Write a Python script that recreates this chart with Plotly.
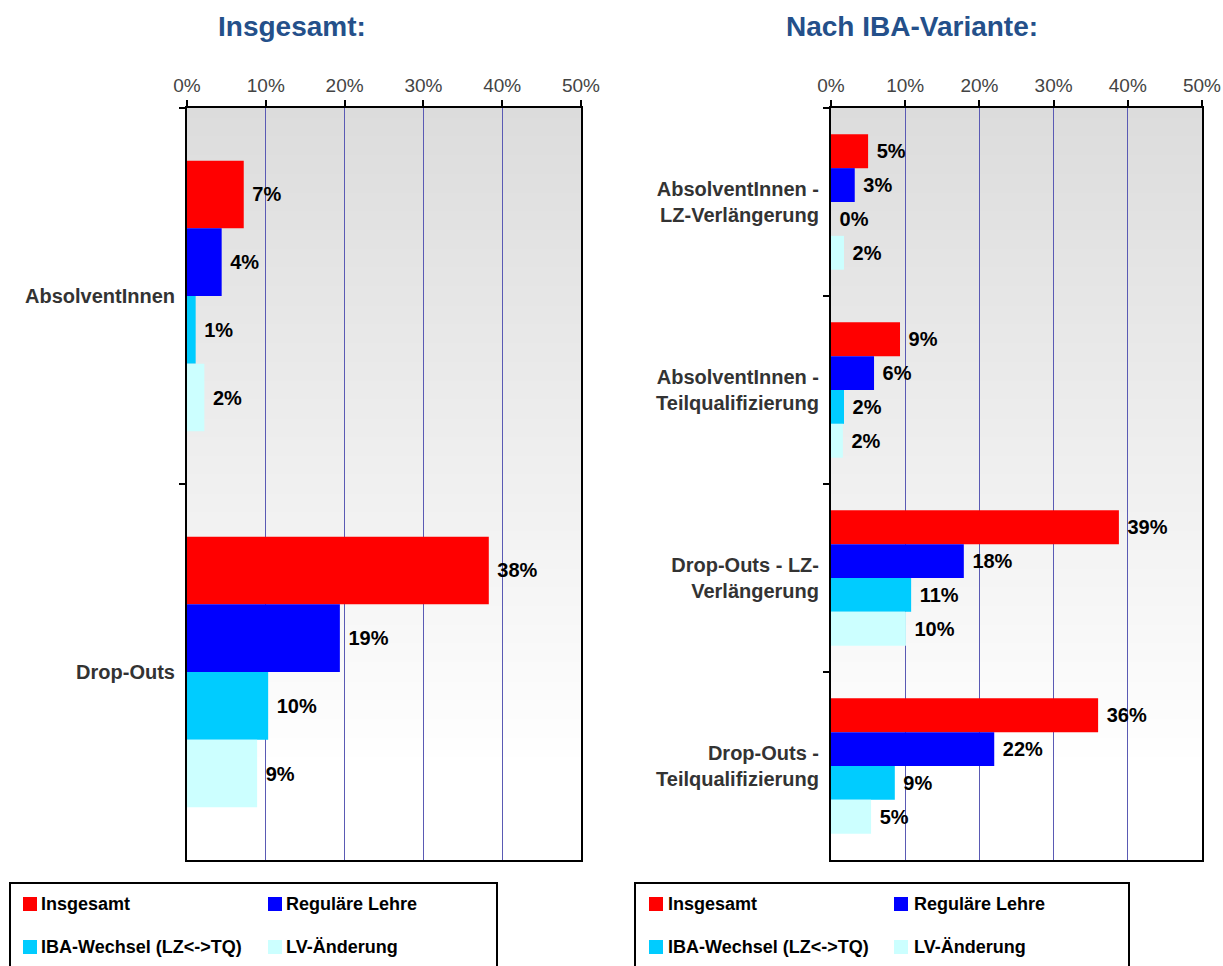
import plotly.graph_objects as go

# ---------------- data ----------------
series_names = ["Insgesamt", "Reguläre Lehre", "IBA-Wechsel (LZ<->TQ)", "LV-Änderung"]
series_colors = ["#ff0000", "#0000ff", "#00ccff", "#ccffff"]

cats_left = ["AbsolventInnen", "Drop-Outs"]
insgesamt_left = [7.2, 38.3]
regulaer_left = [4.4, 19.4]
iba_left = [1.1, 10.3]
lv_left = [2.2, 8.9]

cats_right = ["AbsolventInnen -<br>LZ-Verlängerung",
              "AbsolventInnen -<br>Teilqualifizierung",
              "Drop-Outs - LZ-<br>Verlängerung",
              "Drop-Outs -<br>Teilqualifizierung"]
insgesamt_right = [5.0, 9.3, 38.8, 36.0]
regulaer_right = [3.2, 5.8, 17.9, 22.0]
iba_right = [0.0, 1.75, 10.8, 8.6]
lv_right = [1.75, 1.6, 10.1, 5.4]

x_ticks = [0, 10, 20, 30, 40, 50]
titles = ["Insgesamt:", "Nach IBA-Variante:"]

# ---------------- figure ----------------
W, H = 1223, 966
FONT = "Liberation Sans, Arial, sans-serif"

fig = go.Figure()

left_vals = [insgesamt_left, regulaer_left, iba_left, lv_left]
right_vals = [insgesamt_right, regulaer_right, iba_right, lv_right]

for name, col, vals in zip(series_names, series_colors, left_vals):
    fig.add_trace(go.Bar(
        y=cats_left, x=vals, orientation="h", name=name,
        marker=dict(color=col, line=dict(width=0)),
        texttemplate="\u00a0%{x:.0f}%", textposition="outside",
        textfont=dict(family=FONT, size=20, color="black", weight="bold"),
        constraintext="none", cliponaxis=False,
        xaxis="x", yaxis="y", showlegend=False, hoverinfo="skip"))

for name, col, vals in zip(series_names, series_colors, right_vals):
    fig.add_trace(go.Bar(
        y=cats_right, x=vals, orientation="h", name=name,
        marker=dict(color=col, line=dict(width=0)),
        texttemplate="\u00a0%{x:.0f}%", textposition="outside",
        textfont=dict(family=FONT, size=20, color="black", weight="bold"),
        constraintext="none", cliponaxis=False,
        xaxis="x2", yaxis="y2", showlegend=False, hoverinfo="skip"))

def px_x(v):
    return v / W

def px_y(v):
    return 1 - v / H

y_dom = [px_y(860), px_y(108)]

xaxis_common = dict(
    range=[0, 50], tickvals=x_ticks, ticktext=[f"{t}%" for t in x_ticks],
    side="top", ticks="outside", ticklen=6, tickwidth=2, tickcolor="black",
    showline=True, linecolor="black", linewidth=2, mirror=True,
    showgrid=True, gridcolor="#5a5ab4", gridwidth=1, zeroline=False,
    automargin=False,
    tickfont=dict(family=FONT, size=19, color="#444444"), fixedrange=True)

yaxis_common = dict(
    type="category", autorange="reversed", tickson="boundaries",
    ticks="outside", ticklen=6, tickwidth=2, tickcolor="black",
    showline=True, linecolor="black", linewidth=2, mirror=True,
    showgrid=False, ticklabelstandoff=6, automargin=False,
    tickfont=dict(family=FONT, size=20, color="#333333", weight="bold"),
    fixedrange=True)

fig.update_layout(
    width=W, height=H,
    margin=dict(l=0, r=0, t=0, b=0, autoexpand=False),
    paper_bgcolor="white", plot_bgcolor="white",
    barmode="group", bargap=0.28, bargroupgap=0,
    xaxis=dict(domain=[px_x(187), px_x(581)], anchor="y", **xaxis_common),
    yaxis=dict(domain=y_dom, anchor="x", **yaxis_common),
    xaxis2=dict(domain=[px_x(831), px_x(1202)], anchor="y2", **xaxis_common),
    yaxis2=dict(domain=y_dom, anchor="x2", **yaxis_common),
    showlegend=False,
)

# gradient background (gray at top -> white near bottom)
shapes = []
N = 80
for xr, yr in [("x domain", "y domain"), ("x2 domain", "y2 domain")]:
    for i in range(N):
        y0 = i / N
        y1 = (i + 1) / N
        ymid = (y0 + y1) / 2
        t = (ymid - 0.126) / (1 - 0.126)
        t = max(0.0, min(1.0, t))
        g = int(round(255 - 35 * t))
        if g >= 255:
            continue
        shapes.append(dict(type="rect", xref=xr, yref=yr, x0=0, x1=1,
                           y0=y0, y1=y1 + 0.002, layer="below",
                           fillcolor=f"rgb({g},{g},{g})", line=dict(width=0)))

# legend boxes (manual, drawn per chart)
annotations = []
legend_specs = [
    dict(box=(10, 497), sq=[23, 268], txt=[39, 284]),
    dict(box=(635, 1129), sq=[649, 894], txt=[666, 912]),
]
rows_y = [904, 947]
for spec in legend_specs:
    bx0, bx1 = spec["box"]
    shapes.append(dict(type="rect", xref="paper", yref="paper",
                       x0=px_x(bx0), x1=px_x(bx1), y0=px_y(975), y1=px_y(883),
                       line=dict(color="black", width=2), fillcolor="white",
                       layer="above"))
    for k, (name, col) in enumerate(zip(series_names, series_colors)):
        r, c = divmod(k, 2)
        cy = rows_y[r]
        sx = spec["sq"][c]
        shapes.append(dict(type="rect", xref="paper", yref="paper",
                           x0=px_x(sx), x1=px_x(sx + 14),
                           y0=px_y(cy + 7), y1=px_y(cy - 7),
                           fillcolor=col, line=dict(width=0), layer="above"))
        annotations.append(dict(text=name, xref="paper", yref="paper",
                                x=px_x(spec["txt"][c]), y=px_y(cy),
                                xanchor="left", yanchor="middle", showarrow=False,
                                font=dict(family=FONT, size=18, color="black",
                                          weight="bold")))

# titles
for title, cx in zip(titles, [292, 912]):
    annotations.append(dict(text=title, xref="paper", yref="paper",
                            x=px_x(cx), y=px_y(27), xanchor="center",
                            yanchor="middle", showarrow=False,
                            font=dict(family=FONT, size=28, color="#24508a",
                                      weight="bold")))

fig.update_layout(shapes=shapes, annotations=annotations)

fig.write_html("out.html",
               config={"displayModeBar": False},
               post_script="document.body.style.margin='0';document.body.style.overflow='hidden';")
